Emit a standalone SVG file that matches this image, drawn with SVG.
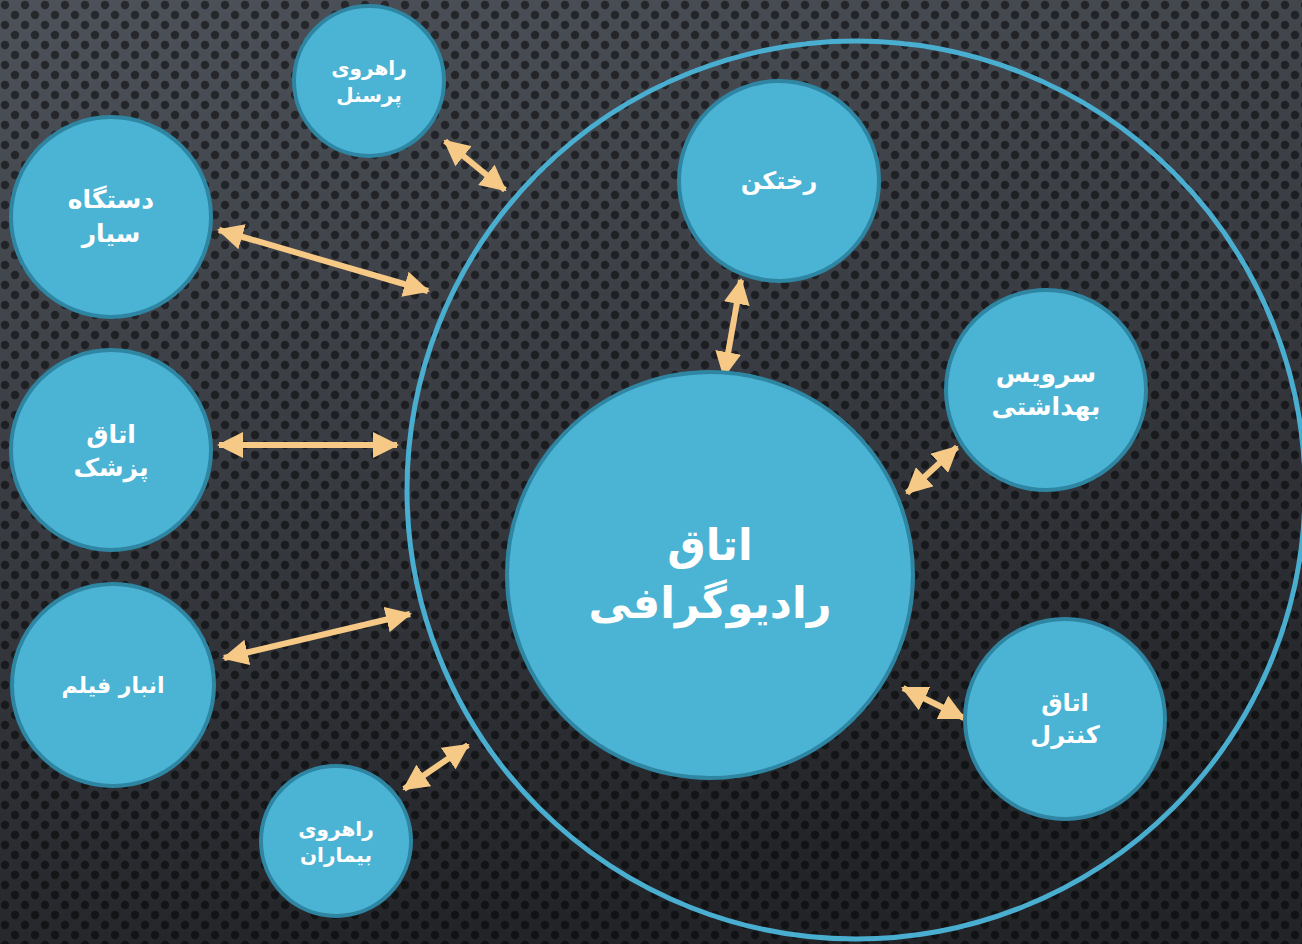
<svg xmlns="http://www.w3.org/2000/svg" width="1302" height="944" viewBox="0 0 1302 944">
<defs>
<linearGradient id="bgGrad" x1="0" y1="0" x2="0.3" y2="1">
<stop offset="0" stop-color="#4d525a"/>
<stop offset="0.5" stop-color="#393c42"/>
<stop offset="1" stop-color="#222428"/>
</linearGradient>
<pattern id="dots" width="20" height="20" patternUnits="userSpaceOnUse">
<circle cx="5" cy="5" r="4.2" fill="#000" fill-opacity="0.5"/>
<circle cx="15" cy="15" r="4.2" fill="#000" fill-opacity="0.5"/>
</pattern>
<marker id="ah" viewBox="0 0 26 26" refX="24" refY="13" markerWidth="26" markerHeight="26" markerUnits="userSpaceOnUse" orient="auto-start-reverse">
<path d="M0,0 L26,13 L0,26 Z" fill="#f6c986"/>
</marker>
<style>
.node{fill:#4bb4d5;stroke:#2f86a3;stroke-width:4}
.lbl{fill:#fff;font-family:"DejaVu Sans","Noto Sans",sans-serif;font-weight:bold;text-anchor:middle;dominant-baseline:central}
.conn{stroke:#f6c986;stroke-width:6;fill:none;marker-start:url(#ah);marker-end:url(#ah)}
</style>
</defs>
<rect width="1302" height="944" fill="url(#bgGrad)"/>
<rect width="1302" height="944" fill="url(#dots)"/>
<circle id="outer" cx="856" cy="490" r="449" fill="none" stroke="#4aaed1" stroke-width="5"/>
<g id="connectors">
<line class="conn" x1="445" y1="141" x2="505" y2="190"/>
<line class="conn" x1="219" y1="230" x2="428" y2="291"/>
<line class="conn" x1="219" y1="445" x2="397" y2="445"/>
<line class="conn" x1="224" y1="658" x2="410" y2="614"/>
<line class="conn" x1="404" y1="789" x2="468" y2="745"/>
<line class="conn" x1="741" y1="280" x2="724" y2="376"/>
<line class="conn" x1="907" y1="493" x2="957" y2="447"/>
<line class="conn" x1="903" y1="688" x2="964" y2="718"/>
</g>
<g id="n-center"><circle class="node" cx="710" cy="575" r="203"/>
<text class="lbl" x="710" y="545" font-size="43">اتاق</text>
<text class="lbl" x="710" y="603" font-size="43">رادیوگرافی</text></g>
<g id="n-personnel"><circle class="node" cx="369" cy="81" r="75"/>
<text class="lbl" x="369" y="68" font-size="20">راهروی</text>
<text class="lbl" x="369" y="95" font-size="20">پرسنل</text></g>
<g id="n-mobile"><circle class="node" cx="111" cy="217" r="100"/>
<text class="lbl" x="111" y="199" font-size="25">دستگاه</text>
<text class="lbl" x="111" y="233" font-size="25">سیار</text></g>
<g id="n-doctor"><circle class="node" cx="111" cy="450" r="100"/>
<text class="lbl" x="111" y="434" font-size="25">اتاق</text>
<text class="lbl" x="111" y="467" font-size="25">پزشک</text></g>
<g id="n-film"><circle class="node" cx="113" cy="685" r="101"/>
<text class="lbl" x="113" y="685" font-size="22">انبار فیلم</text></g>
<g id="n-patients"><circle class="node" cx="336" cy="841" r="75"/>
<text class="lbl" x="336" y="829" font-size="20">راهروی</text>
<text class="lbl" x="336" y="855" font-size="20">بیماران</text></g>
<g id="n-changing"><circle class="node" cx="779" cy="181" r="100"/>
<text class="lbl" x="779" y="181" font-size="24">رختکن</text></g>
<g id="n-wc"><circle class="node" cx="1046" cy="390" r="100"/>
<text class="lbl" x="1046" y="373" font-size="25">سرویس</text>
<text class="lbl" x="1046" y="406" font-size="25">بهداشتی</text></g>
<g id="n-control"><circle class="node" cx="1065" cy="719" r="100"/>
<text class="lbl" x="1065" y="703" font-size="24">اتاق</text>
<text class="lbl" x="1065" y="735" font-size="24">کنترل</text></g>
</svg>
